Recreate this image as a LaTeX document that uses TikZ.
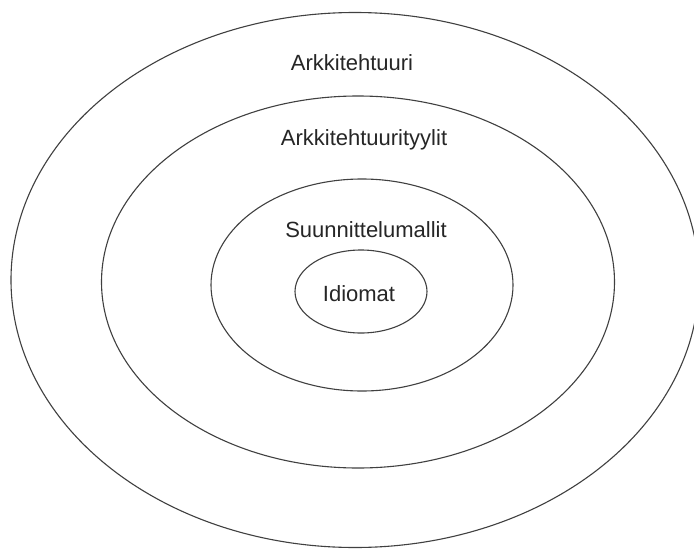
\documentclass[tikz,border=0pt]{standalone}
\usepackage{fontspec}
\setmainfont{Liberation Sans}
\usetikzlibrary{shapes.geometric}
\begin{document}
\begin{tikzpicture}[x=1pt,y=-1pt,
  ring/.style={ellipse,draw=black!75,line width=1.1pt,inner sep=0pt,outer sep=0pt},
  lbl/.style={font=\fontsize{22}{26}\selectfont,text=black!85,inner sep=0pt}]
\useasboundingbox (0,0) rectangle (694,549);
\clip (0,0) rectangle (694,549);
\fill[white] (0,0) rectangle (694,549);
\node[ring,minimum width=688pt,minimum height=535pt] (r1) at (355,280) {};
\node[ring,minimum width=513pt,minimum height=372pt] (r2) at (358,282) {};
\node[ring,minimum width=302pt,minimum height=212pt] (r3) at (362,285) {};
\node[ring,minimum width=132pt,minimum height=83pt] (r4) at (361,291.5) {};
\node[lbl] (t1) at (352,63) {Arkkitehtuuri};
\node[lbl] (t2) at (364,140) {Arkkitehtuurityylit};
\node[lbl] (t3) at (366,230) {Suunnittelumallit};
\node[lbl] (t4) at (359,294) {Idiomat};
\end{tikzpicture}
\end{document}
